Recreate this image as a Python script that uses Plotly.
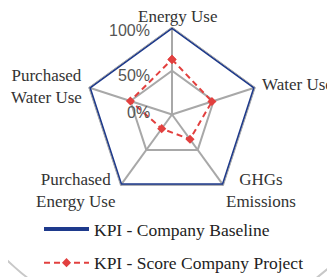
import plotly.graph_objects as go

categories = ["Energy Use", "Water Use", "GHGs<br>Emissions", "Purchased<br>Energy Use", "Purchased<br>Water Use"]
baseline = [100, 100, 100, 100, 100]
project = [63, 48, 35, 20, 50]
tick_vals = [0, 50, 100]
tick_text = ["0%", "50%", "100%"]

W, H = 335, 277
OFF = 8  # page body margin (page px = figure px + 8)
cx, cy, R = 172 - OFF, 114.5 - OFF, 87.5

fig = go.Figure()
fig.add_trace(go.Scatterpolar(
    r=baseline + baseline[:1], theta=categories + categories[:1],
    mode="lines", name="KPI - Company Baseline",
    line=dict(color="#1e3a8c", width=4), legendgroup="a"))
fig.add_trace(go.Scatterpolar(
    r=project + project[:1], theta=categories + categories[:1],
    mode="lines+markers", name="KPI - Score Company Project",
    line=dict(color="#e2403f", width=2, dash="6px,4px"),
    marker=dict(symbol="diamond", size=7, color="#e2403f"), legendgroup="b"))

# faint background arc
acx, acy, ar = 172 - OFF, 90 - OFF, 237
fig.add_shape(type="circle", xref="paper", yref="paper",
              x0=(acx - ar) / W, x1=(acx + ar) / W,
              y0=(H - acy - ar) / H, y1=(H - acy + ar) / H,
              line=dict(color="#c8c8c8", width=2), layer="below")

# radial tick labels (left of the vertical spoke)
tick_y = [113, 75, 30]
for t, ty in zip(tick_text, tick_y):
    fig.add_annotation(xref="paper", yref="paper", x=(152 - OFF) / W,
                       y=(H - (ty - OFF)) / H,
                       text=t, showarrow=False, xanchor="right", yanchor="middle",
                       font=dict(family="Liberation Sans", size=16, color="#555555"))

# category labels placed beside the pentagon vertices
label_pos = [(177, 16.5, "center"), (260, 85, "left"), (261, 190, "center"),
             (75, 190, "center"), (46, 86.5, "center")]
for name, (lx, ly, anchor) in zip(categories, label_pos):
    fig.add_annotation(xref="paper", yref="paper", x=(lx - OFF) / W, y=(H - (ly - OFF)) / H,
                       text=name, showarrow=False, xanchor=anchor, yanchor="middle",
                       align="center",
                       font=dict(family="Liberation Serif", size=17, color="#333333"))

fig.update_layout(
    width=W, height=H, margin=dict(l=0, r=0, t=0, b=0),
    paper_bgcolor="white", plot_bgcolor="white",
    font=dict(family="Liberation Serif", size=17.5, color="#333333"),
    polar=dict(
        domain=dict(x=[(cx - R) / W, (cx + R) / W], y=[(H - cy - R) / H, (H - cy + R) / H]),
        gridshape="linear", bgcolor="white",
        radialaxis=dict(range=[0, 100], tickvals=tick_vals, showticklabels=False,
                        showline=False, gridcolor="#a8a8a8", gridwidth=1.5, ticks=""),
        angularaxis=dict(direction="clockwise", rotation=90, linecolor="#a8a8a8",
                         gridcolor="#a8a8a8", gridwidth=1.5, ticks="", showticklabels=False),
    ),
    showlegend=True,
    legend=dict(x=31 / W, y=1 - 203 / H, xanchor="left", yanchor="top",
                traceorder="grouped", tracegroupgap=8, itemwidth=45,
                font=dict(family="Liberation Serif", size=17.5, color="#222222"),
                bgcolor="rgba(0,0,0,0)"),
)
fig.write_html("out.html")
